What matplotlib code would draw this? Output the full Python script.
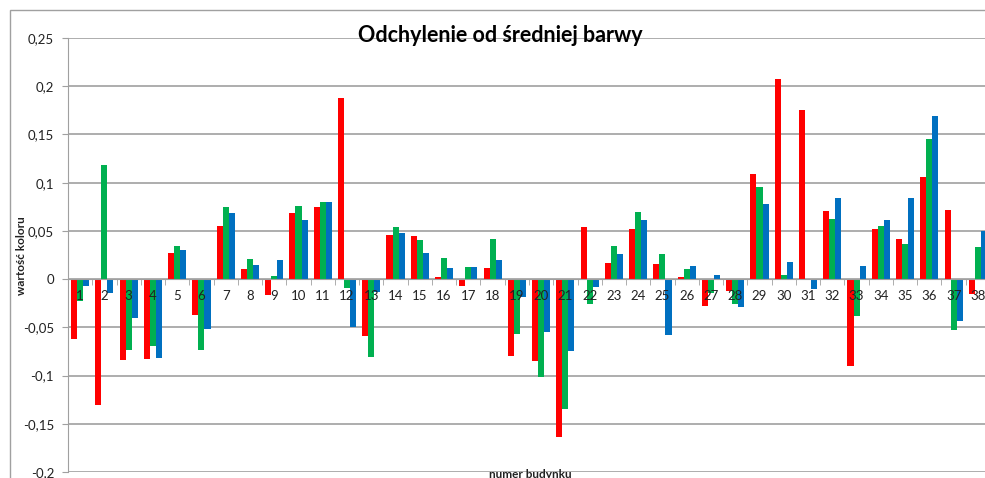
import numpy as np
import matplotlib
matplotlib.use('Agg')
from matplotlib import pyplot as plt
from matplotlib.patches import Rectangle
from matplotlib.ticker import FixedLocator, FuncFormatter

buildings = list(range(1, 39))
red = [-0.062, -0.131, -0.084, -0.083, 0.027, -0.037, 0.055, 0.010, -0.016, 0.069,
       0.075, 0.188, -0.059, 0.046, 0.045, 0.002, -0.007, 0.012, -0.080, -0.085,
       -0.164, 0.054, 0.017, 0.052, 0.016, 0.002, -0.028, -0.012, 0.109, 0.208,
       0.175, 0.071, -0.090, 0.052, 0.042, 0.106, 0.072, -0.015]
green = [-0.023, 0.118, -0.074, -0.069, 0.034, -0.074, 0.075, 0.021, 0.003, 0.076,
         0.080, -0.009, -0.081, 0.054, 0.041, 0.022, 0.013, 0.042, -0.057, -0.102,
         -0.135, -0.026, 0.034, 0.070, 0.026, 0.011, -0.014, -0.026, 0.096, 0.004,
         -0.001, 0.062, -0.038, 0.055, 0.036, 0.145, -0.053, 0.033]
blue = [-0.007, -0.014, -0.040, -0.082, 0.030, -0.052, 0.069, 0.015, 0.020, 0.061,
        0.080, -0.050, -0.013, 0.048, 0.027, 0.012, 0.013, 0.020, -0.019, -0.055,
        -0.075, -0.008, 0.026, 0.061, -0.058, 0.014, 0.004, -0.029, 0.078, 0.018,
        -0.010, 0.084, 0.014, 0.061, 0.084, 0.169, -0.043, 0.050]
yticks = [-0.2, -0.15, -0.1, -0.05, 0, 0.05, 0.1, 0.15, 0.2, 0.25]

plt.rcParams['font.family'] = ['Lato', 'DejaVu Sans']

fig = plt.figure(figsize=(9.85, 4.78), dpi=100)
# outer chart frame, cut by the image edges like in the screenshot
fig.patches.append(Rectangle((10 / 985, -0.1), 1.2, 1.1 - 10 / 478,
                             transform=fig.transFigure, fill=False,
                             edgecolor='#a0a0a0', linewidth=1.0))
ax = fig.add_axes([68 / 985, 6 / 478, 922 / 985, 434 / 478])

x = np.array(buildings)
w = 0.25
ax.bar(x - w, red, w, color='#ff0000', zorder=3)
ax.bar(x, green, w, color='#00b050', zorder=3)
ax.bar(x + w, blue, w, color='#0070c0', zorder=3)

ax.set_xlim(0.5, 38.5)
ax.set_ylim(-0.2, 0.25)
ax.set_yticks(yticks)
ax.yaxis.set_major_formatter(FuncFormatter(lambda v, p: ('%g' % round(v, 2)).replace('.', ',')))
ax.grid(axis='y', color='#a0a0a0', linewidth=1.2, zorder=0)

ax.spines['top'].set_visible(False)
ax.spines['right'].set_visible(False)
ax.spines['left'].set_color('#a0a0a0')
ax.spines['bottom'].set_position(('data', 0))
ax.spines['bottom'].set_color('#a0a0a0')
ax.spines['bottom'].set_zorder(4)

# category labels drawn as text so they sit on top of the bars (Excel style)
ax.xaxis.set_major_locator(FixedLocator(buildings))
ax.set_xticklabels([])
ax.xaxis.set_minor_locator(FixedLocator(np.arange(0.5, 39, 1)))
ax.tick_params(axis='x', which='major', length=0)
ax.tick_params(axis='x', which='minor', length=4, color='#a0a0a0', direction='out')
ax.tick_params(axis='y', length=4, color='#a0a0a0', labelsize=9.5, labelcolor='#222222', pad=6)
for b in buildings:
    ax.annotate(str(b), (b, 0), xytext=(0, -17), textcoords='offset pixels',
                ha='center', va='center', fontsize=9.5, color='#222222', zorder=6,
                annotation_clip=False)

fig.text(0.508, 0.926, 'Odchylenie od średniej barwy', ha='center', va='center',
         fontsize=15.5, fontweight='bold')
fig.text(22 / 985, 1 - 256 / 478, 'wartość koloru', rotation=90, ha='center', va='center',
         fontsize=8.5, fontweight='bold', color='#222222')
fig.text(530 / 985, 1 - 474 / 478, 'numer budynku', ha='center', va='center',
         fontsize=8.5, fontweight='bold', color='#222222')

fig.savefig('out.png', dpi=100)
